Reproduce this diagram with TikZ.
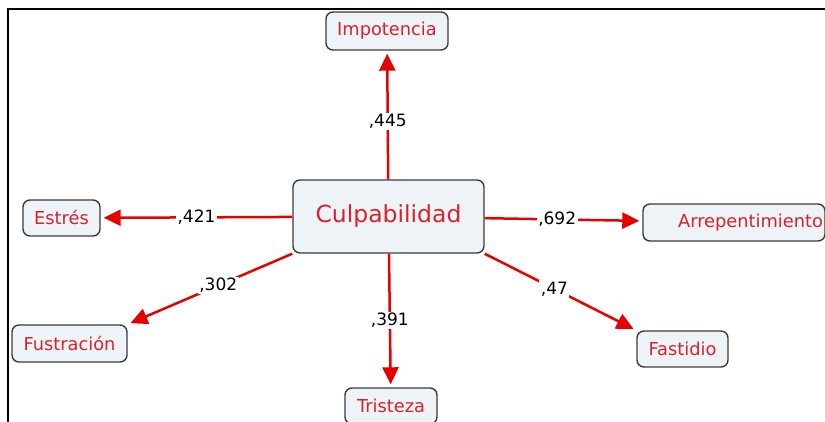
\documentclass[tikz,border=0pt]{standalone}
\usepackage{fontspec}
\setmainfont{DejaVu Sans}
\usetikzlibrary{arrows.meta}
\definecolor{boxfill}{HTML}{EEF3F7}
\definecolor{boxline}{HTML}{3C3C3C}
\definecolor{conceptred}{HTML}{D9222C}
\definecolor{linkred}{HTML}{E60000}
\begin{document}
\begin{tikzpicture}[x=1pt,y=-1pt]

        \useasboundingbox (0,0) rectangle (825,422);
        \draw[line width=2.5pt] (8,422) -- (8,9) -- (825,9);

        \begin{scope}[every node/.style={draw=boxline,line width=1.4pt,fill=boxfill,rounded corners=7pt,
            text=conceptred,font=\fontsize{17.8}{21}\selectfont,inner sep=2pt}]
          \node[minimum width=191pt,minimum height=73pt,font=\fontsize{23.5}{28}\selectfont] (culp) at (388.5,216.5) {Culpabilidad};
          \node[minimum width=122pt,minimum height=38pt] (imp)  at (387,31)    {Impotencia};
          \node[minimum width=77pt,minimum height=36pt]  (est)  at (61.5,218)  {Estrés};
          \node[minimum width=115pt,minimum height=37pt] (fus)  at (69.5,343.5) {Fustración};
          \node[minimum width=92pt,minimum height=36pt]  (tri)  at (391,406)   {Tristeza};
          \node[minimum width=91pt,minimum height=36pt]  (fas)  at (682.5,349) {Fastidio};
          \node[minimum width=182pt,minimum height=37pt,text width=178pt,align=right] (arr) at (734,222.5) {Arrepentimiento};
        \end{scope}

        \begin{scope}[every node/.style={fill=white,inner sep=1.5pt,text=black,font=\fontsize{17}{20}\selectfont}]

          \begin{scope}[every edge/.style={draw=linkred,line width=2.5pt,shorten >=3pt,
              -{Triangle[length=17pt,width=16pt]}}]
            \path (culp) edge node[pos=0.45] {,445} (imp);
            \path (culp) edge node {,421} (est);
            \path (culp.south west) edge node[pos=0.45] {,302} (fus.north east);
            \path (culp) edge node {,391} (tri);
            \path (culp.south east) edge node[pos=0.46] {,47} (fas.north west);
            \path (culp) edge node[pos=0.46] {,692} (arr);
          \end{scope}
        \end{scope}

      \end{tikzpicture}
\end{document}
